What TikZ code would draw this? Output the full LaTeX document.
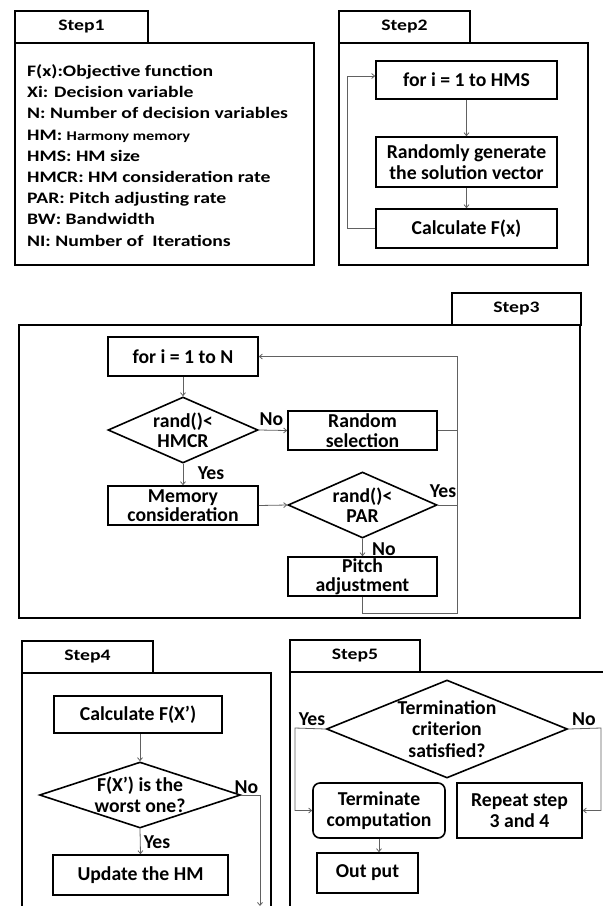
\documentclass[tikz,border=0pt]{standalone}
\usepackage{fontspec}
\setmainfont{Carlito}
\newfontfamily\widefont{Carlito}[FakeStretch=1.23]
\usetikzlibrary{shapes.geometric,arrows.meta,calc}
\begin{document}
\begin{tikzpicture}[x=1pt,y=-1pt,
  font=\bfseries\fontsize{19.7}{20.5}\selectfont,
  frame/.style={draw=black, line width=1.6pt},
  box/.style={draw=black, line width=1.6pt, align=center, inner sep=0pt},
  tab/.style={draw=black, line width=1.6pt, minimum height=32pt, inner sep=0pt,
              font=\widefont\bfseries\fontsize{16}{20}\selectfont},
  dia/.style={diamond, draw=black, line width=1.6pt, align=center, inner sep=-3pt},
  conn/.style={draw=black!62, line width=0.8pt},
  arr/.style={conn, -{Straight Barb[length=3pt,width=5pt]}},
  lbl/.style={inner sep=0pt}
]
\useasboundingbox (0,0) rectangle (603,906);

% ---------------- Step 1 ----------------
\node[tab, minimum width=133pt] (t1) at (81.5,27) {Step1};
\draw[frame] (15,43) rectangle (314,265);
\node[anchor=north west, inner sep=0pt, align=left,
      font=\widefont\bfseries\fontsize{16}{21.2}\selectfont] (s1text) at (27,64.5)
 {F(x):Objective function\\
  Xi: Decision variable\\
  N: Number of decision variables\\
  HM: {\fontsize{13.3}{21.2}\selectfont Harmony memory}\\
  HMS: HM size\\
  HMCR: HM consideration rate\\
  PAR: Pitch adjusting rate\\
  BW: Bandwidth\\
  NI: Number of\ \ Iterations};

% ---------------- Step 2 ----------------
\node[tab, minimum width=131pt] (t2) at (404.5,27) {Step2};
\draw[frame] (339,43) rectangle (588,265);
\node[box, minimum width=181pt, minimum height=38pt] (s2for) at (466.5,80) {for i = 1 to HMS};
\node[box, minimum width=181pt, minimum height=50pt] (s2rand) at (466.5,162) {Randomly generate\\the solution vector};
\node[box, minimum width=181pt, minimum height=39pt] (s2calc) at (466.5,228.5) {Calculate F(x)};
\coordinate (s2loop) at (347,228.5);
\draw[arr] (s2for) -- (s2rand);
\draw[arr] (s2rand) -- (s2calc);
\draw[arr] (s2calc.west) -- (s2loop) |- ([yshift=4pt]s2for.west);

% ---------------- Step 3 ----------------
\node[tab, minimum width=129pt] (t3) at (516.5,309) {Step3};
\draw[frame] (19,325) rectangle (580,618);
\node[box, minimum width=150pt, minimum height=39pt] (s3for) at (183,356.5) {for i = 1 to N};
\node[dia, minimum width=150pt, minimum height=66pt, aspect=2.27] (s3hmcr) at (183,430) {rand()<\\HMCR};
\node[box, minimum width=149pt, minimum height=39pt] (s3rs) at (362.5,430.5) {Random\\[-1pt]selection};
\node[box, minimum width=150pt, minimum height=39pt] (s3mem) at (183,505.5) {Memory\\[-1pt]consideration};
\node[dia, minimum width=149pt, minimum height=66pt, aspect=2.26] (s3par) at (362.5,505) {rand()<\\PAR};
\node[box, minimum width=149pt, minimum height=39pt] (s3pitch) at (362.5,576.5) {Pitch\\[-1pt]adjustment};
\coordinate (c3top) at (457,356.5);
\coordinate (c3bot) at (457,613);
\draw[arr] (s3for) -- (s3hmcr);
\draw[arr] (s3hmcr.east) -- (s3rs.west);
\draw[arr] (s3hmcr.south) -- (s3mem.north);
\draw[arr] (s3mem.east) -- (s3par.west);
\draw[arr] (s3par.south) -- (s3pitch.north);
\draw[conn] (s3rs.east) -- (s3rs.east -| c3top);
\draw[conn] (s3par.east) -- (s3par.east -| c3top);
\draw[arr] (s3pitch.south) |- (c3bot) -- (c3top) -- (s3for.east);
\node[lbl] (l3no1) at (271.5,419) {No};
\node[lbl] (l3yes1) at (211,473) {Yes};
\node[lbl] (l3yes2) at (443,491) {Yes};
\node[lbl] (l3no2) at (384,549) {No};

% ---------------- Step 4 ----------------
\node[tab, minimum width=131pt] (t4) at (87.5,657) {Step4};
\draw[frame] (22,910) -- (22,673) -- (271,673) -- (271,910);
\node[box, minimum width=168pt, minimum height=37pt] (s4calc) at (138,714.5) {Calculate F(X’)};
\node[dia, minimum width=201pt, minimum height=66pt, aspect=3.05] (s4dia) at (140,795) {F(X’) is the\\worst one?};
\node[box, minimum width=175pt, minimum height=40pt] (s4upd) at (140.5,875) {Update the HM};
\coordinate (s4no) at (260,795);
\coordinate (s4end) at (260,906);
\draw[arr] (s4calc.south -| s4dia.north) -- (s4dia.north);
\draw[arr] (s4dia.south) -- (s4upd.north);
\draw[arr] (s4dia.east) -- (s4no) -- (s4end);
\node[lbl] (l4no) at (246.5,787) {No};
\node[lbl] (l4yes) at (157,842) {Yes};

% ---------------- Step 5 ----------------
\node[tab, minimum width=130pt] (t5) at (355,656) {Step5};
\draw[frame] (290,910) -- (290,672) -- (610,672);
\node[dia, minimum width=241pt, minimum height=98pt, aspect=2.46, inner sep=-6pt,
      font=\bfseries\fontsize{19.7}{21.5}\selectfont] (s5dia) at (447,729) {Termination\\criterion\\satisfied?};
\node[box, rounded corners=7pt, minimum width=132pt, minimum height=55pt] (s5term) at (379,810.5) {Terminate\\computation};
\node[box, minimum width=125pt, minimum height=55pt] (s5rep) at (519.5,810.5) {Repeat step\\3 and 4};
\node[box, minimum width=101pt, minimum height=40pt] (s5out) at (367.5,873) {Out put};
\coordinate (s5l) at (295,728);
\coordinate (s5r) at (601,728);
\draw[arr] (s5dia.west) -- (s5l) |- (s5term.west);
\draw[arr] (s5dia.east) -- (s5r) |- (s5rep.east);
\draw[arr] (s5term.south) -- (s5term.south |- s5out.north);
\node[lbl] (l5yes) at (312,719) {Yes};
\node[lbl] (l5no) at (584,719) {No};
\end{tikzpicture}
\end{document}
